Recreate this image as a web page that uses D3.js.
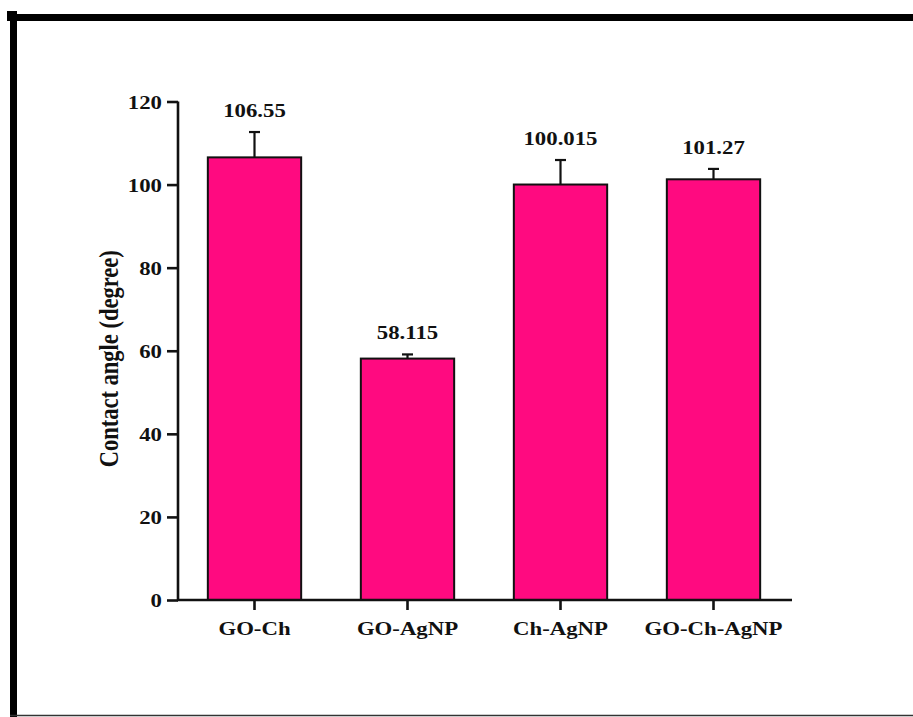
<!DOCTYPE html>
<html>
<head>
<meta charset="utf-8">
<script src="https://cdn.jsdelivr.net/npm/d3@7/dist/d3.min.js"></script>
<style>
  html, body { margin: 0; padding: 0; background: #fff; }
  svg { display: block; }
  text { font-family: "Liberation Serif", "Times New Roman", serif; font-weight: bold; fill: #111; }
</style>
</head>
<body>
<svg id="chart" width="913" height="717"></svg>
<script>
// ---- data ----
const categories = ["GO-Ch", "GO-AgNP", "Ch-AgNP", "GO-Ch-AgNP"];
const values = [106.55, 58.115, 100.015, 101.27];
const errors = [6.1, 1.0, 5.9, 2.5];
const valueLabels = ["106.55", "58.115", "100.015", "101.27"];
const yTicks = [0, 20, 40, 60, 80, 100, 120];
const yTitle = "Contact angle (degree)";

// ---- layout ----
const svg = d3.select("#chart");
const X0 = 178, X1 = 790, Y0 = 600, Y1 = 101.5;
const SX = 1.2; // horizontal stretch of the original text
const FS = 19;

// frame
svg.append("rect").attr("x", 10).attr("y", 14).attr("width", 903).attr("height", 7).attr("fill", "#000");
svg.append("rect").attr("x", 10).attr("y", 11).attr("width", 7).attr("height", 706).attr("fill", "#000");
svg.append("rect").attr("x", 7).attr("y", 11).attr("width", 10).attr("height", 10).attr("fill", "#000");
svg.append("line").attr("x1", 10).attr("x2", 913).attr("y1", 715.5).attr("y2", 715.5)
  .attr("stroke", "#333").attr("stroke-width", 1.5);

const x = d3.scaleBand().domain(categories).range([X0, X1]).paddingInner(0.39).paddingOuter(0.195);
const y = d3.scaleLinear().domain([0, 120]).range([Y0, Y1]);

const data = categories.map((c, i) => ({ c, v: values[i], e: errors[i], lab: valueLabels[i] }));

// bars
svg.append("g").selectAll("rect").data(data).join("rect")
  .attr("x", d => x(d.c))
  .attr("y", d => y(d.v))
  .attr("width", x.bandwidth())
  .attr("height", d => y(0) - y(d.v))
  .attr("fill", "#ff0a80")
  .attr("stroke", "#111")
  .attr("stroke-width", 2);

// error bars (upper only)
const eg = svg.append("g").attr("stroke", "#111").attr("stroke-width", 2.2);
data.forEach(d => {
  const cx = x(d.c) + x.bandwidth() / 2;
  eg.append("line").attr("x1", cx).attr("x2", cx).attr("y1", y(d.v)).attr("y2", y(d.v + d.e));
  eg.append("line").attr("x1", cx - 5.5).attr("x2", cx + 5.5).attr("y1", y(d.v + d.e)).attr("y2", y(d.v + d.e));
});

// value labels
svg.append("g").selectAll("text").data(data).join("text")
  .attr("transform", d => `translate(${x(d.c) + x.bandwidth() / 2},${y(d.v + d.e) - 15}) scale(${SX},1)`)
  .attr("text-anchor", "middle")
  .style("font-size", FS + "px")
  .text(d => d.lab);

// y axis
const yAxis = svg.append("g").attr("transform", `translate(${X0},0)`)
  .call(d3.axisLeft(y).tickValues(yTicks).tickSize(11).tickPadding(5).tickFormat(d3.format("d")));
yAxis.select(".domain").attr("stroke", "#111").attr("stroke-width", 2.6).attr("d", `M0,${Y1}H0V${Y0}`);
yAxis.selectAll(".tick line").attr("stroke", "#111").attr("stroke-width", 2.6);
yAxis.selectAll(".tick text").each(function() {
  const t = d3.select(this);
  const xx = +t.attr("x");
  t.attr("x", null).attr("transform", `translate(${xx},0) scale(${SX},1)`);
}).attr("dy", "0.35em").style("font-size", FS + "px").attr("fill", "#111")
  .style("font-family", '"Liberation Serif", serif').style("font-weight", "bold");

// x axis
const xAxis = svg.append("g").attr("transform", `translate(0,${Y0})`)
  .call(d3.axisBottom(x).tickSize(10).tickPadding(0));
xAxis.select(".domain").attr("stroke", "#111").attr("stroke-width", 2.6).attr("d", `M${X0 - 1},0H${X1 + 2}`);
xAxis.selectAll(".tick line").attr("stroke", "#111").attr("stroke-width", 2.6);
xAxis.selectAll(".tick text").attr("y", null).attr("dy", null)
  .attr("transform", `translate(0,35) scale(${SX},1)`)
  .style("font-size", FS + "px").attr("fill", "#111")
  .style("font-family", '"Liberation Serif", serif').style("font-weight", "bold");

// y title
svg.append("text")
  .attr("transform", `translate(118,${(Y0 + Y1) / 2 + 8}) scale(${SX},1) rotate(-90)`)
  .attr("text-anchor", "middle")
  .style("font-size", "22.5px")
  .text(yTitle);
</script>
</body>
</html>
